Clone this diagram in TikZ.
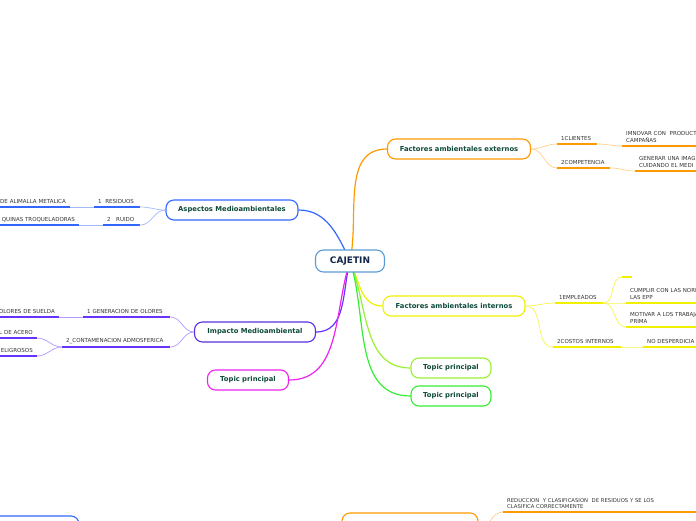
\documentclass[tikz,border=0pt]{standalone}
\usepackage{fontspec}
\setmainfont{DejaVu Sans}
\usetikzlibrary{positioning,backgrounds}
\definecolor{mmblue}{HTML}{3366FF}
\definecolor{mmorange}{HTML}{FF9900}
\definecolor{mmyellow}{HTML}{F0F000}
\definecolor{mmlime}{HTML}{99F033}
\definecolor{mmgreen}{HTML}{33EE33}
\definecolor{mmpurple}{HTML}{6633FF}
\definecolor{mmmagenta}{HTML}{EE22EE}
\definecolor{mmroot}{HTML}{5B9BD5}
\definecolor{mmtext}{HTML}{0E4A3A}
\definecolor{mmnavy}{HTML}{14284B}

\begin{document}
\begin{tikzpicture}[x=1pt, y=-1pt,
  topic/.style={draw, rounded corners=8pt, fill=white, line width=1.1pt,
    minimum height=20pt, inner sep=0pt, text=mmtext,
    font=\fontsize{6.8}{8}\selectfont\bfseries},
  sub/.style={anchor=south west, inner xsep=4pt, inner ysep=3pt, align=left,
    text=black!80, font=\fontsize{5.5}{7}\selectfont},
  subl/.style={sub, anchor=south east, align=right},
  bar/.style={line width=1.4pt},
  link/.style={line width=0.7pt},
  rootlink/.style={line width=1.2pt}]
  \useasboundingbox (0,0) rectangle (696,520);
  \clip (0,0) rectangle (696,520);

  % central topic
  \node[topic, draw=mmroot, minimum width=69pt, minimum height=22pt, text=mmnavy,
    font=\fontsize{9}{10}\selectfont\bfseries] (cajetin) at (350,261) {CAJETIN};

  % main topics
  \node[topic, draw=mmorange, minimum width=143pt] (fext) at (459,149) {Factores ambientales externos};
  \node[topic, draw=mmblue, minimum width=132pt] (asp) at (232,210) {Aspectos Medioambientales};
  \node[topic, draw=mmyellow, minimum width=142pt] (fint) at (454,306) {Factores ambientales internos};
  \node[topic, draw=mmlime, minimum width=80pt] (tpa) at (451,368) {Topic principal};
  \node[topic, draw=mmgreen, minimum width=80pt] (tpb) at (451,396) {Topic principal};
  \node[topic, draw=mmpurple!90!black, minimum width=121pt] (imp) at (255,332) {Impacto Medioambiental};
  \node[topic, draw=mmmagenta, minimum width=81pt] (tpc) at (248,380) {Topic principal};

  % bottom topics
  \node[topic, draw=mmblue, minimum width=130pt, minimum height=30pt] (bleft) at (14,531) {};
  \node[topic, draw=mmorange, minimum width=136pt, minimum height=30pt] (bmid) at (410,528) {};

  % root connectors
  \begin{scope}[on background layer]
    \draw[rootlink, mmblue] (cajetin.center) to[out=115, in=0] (asp.east);
    \draw[rootlink, mmorange] (cajetin.center) to[out=78, in=180] (fext.west);
    \draw[rootlink, mmyellow] (cajetin.center) to[out=-65, in=180] (fint.west);
    \draw[rootlink, mmlime] (cajetin.center) to[out=-68, in=180] (tpa.west);
    \draw[rootlink, mmgreen] (cajetin.center) to[out=-72, in=180] (tpb.west);
    \draw[rootlink, mmpurple] (cajetin.center) to[out=-105, in=0] (imp.east);
    \draw[rootlink, mmmagenta] (cajetin.center) to[out=-108, in=0] (tpc.east);
  \end{scope}

  % Factores ambientales externos
  \node[sub, text width=32pt] (cli) at (557,144) {1CLIENTES};
  \node[sub, text width=90pt] (clia) at (622,146) {IMNOVAR CON\ \ PRODUCT\\CAMPAÑAS};
  \node[sub, text width=45pt] (comp) at (557,168) {2COMPETENCIA};
  \node[sub, text width=80pt] (compa) at (635,171) {GENERAR UNA IMAG\\CUIDANDO EL MEDI};
  \foreach \n in {cli,clia,comp,compa}
    \draw[bar, mmorange] (\n.south west) -- (\n.south east);
  \draw[link, mmorange!45] (fext.east) to[out=0, in=180] (cli.south west);
  \draw[link, mmorange!45] (fext.east) to[out=0, in=180] (comp.south west);
  \draw[link, mmorange!45] (cli.south east) to[out=0, in=180] (clia.south west);
  \draw[link, mmorange!45] (comp.south east) to[out=0, in=180] (compa.south west);

  % Factores ambientales internos
  \node[sub, text width=40pt] (emp) at (555,303) {1EMPLEADOS};
  \node[sub, text width=2pt] (empa) at (622,277) {};
  \node[sub, text width=90pt] (empb) at (626,303) {CUMPLIR CON LAS NORM\\LAS EPP};
  \node[sub, text width=90pt] (empc) at (626,327) {MOTIVAR A LOS TRABAJA\\PRIMA};
  \node[sub, text width=60pt] (cos) at (553,347) {2COSTOS INTERNOS};
  \node[sub, text width=60pt] (cosa) at (643,347) {NO DESPERDICIA};
  \foreach \n in {emp,empa,empb,empc,cos,cosa}
    \draw[bar, mmyellow] (\n.south west) -- (\n.south east);
  \draw[link, mmyellow!70] (fint.east) to[out=0, in=180] (emp.south west);
  \draw[link, mmyellow!70] (fint.east) to[out=0, in=180] (cos.south west);
  \draw[link, mmyellow!70] (emp.south east) to[out=0, in=180] (empa.south west);
  \draw[link, mmyellow!70] (emp.south east) to[out=0, in=180] (empb.south west);
  \draw[link, mmyellow!70] (emp.south east) to[out=0, in=180] (empc.south west);
  \draw[link, mmyellow!70] (cos.south east) to[out=0, in=180] (cosa.south west);

  % Aspectos Medioambientales
  \node[sub, text width=38pt] (res) at (94,207) {1\ \ RESIDUOS};
  \node[subl, text width=80pt] (resa) at (70,207) {DE ALIMALLA METALICA};
  \node[sub, text width=29pt] (rui) at (103,225) {2\ \ \ RUIDO};
  \node[subl, text width=90pt] (ruia) at (79,225) {QUINAS TROQUELADORAS};
  \foreach \n in {res,resa,rui,ruia}
    \draw[bar, mmblue] (\n.south west) -- (\n.south east);
  \draw[link, mmblue!45] (asp.west) to[out=180, in=0] (res.south east);
  \draw[link, mmblue!45] (asp.west) to[out=180, in=0] (rui.south east);
  \draw[link, mmblue!45] (res.south west) -- (resa.south east);
  \draw[link, mmblue!45] (rui.south west) -- (ruia.south east);

  % Impacto Medioambiental
  \node[sub, text width=79pt] (olo) at (83,317) {1 GENERACION DE OLORES};
  \node[subl, text width=70pt] (oloa) at (59,317) {OLORES DE SUELDA};
  \node[sub, text width=100pt] (con) at (62,347) {2\_CONTAMENACION ADMOSFERICA};
  \node[subl, text width=50pt] (cona) at (37,338) {L DE ACERO};
  \node[subl, text width=50pt] (conb) at (37,356) {ELIGROSOS};
  \foreach \n in {olo,oloa,con,cona,conb}
    \draw[bar, mmpurple] (\n.south west) -- (\n.south east);
  \draw[link, mmpurple!50] (imp.west) to[out=180, in=0] (olo.south east);
  \draw[link, mmpurple!50] (imp.west) to[out=180, in=0] (con.south east);
  \draw[link, mmpurple!50] (olo.south west) -- (oloa.south east);
  \draw[link, mmpurple!50] (con.south west) to[out=180, in=0] (cona.south east);
  \draw[link, mmpurple!50] (con.south west) to[out=180, in=0] (conb.south east);

  % bottom branch
  \node[sub, text width=190pt, font=\fontsize{5.3}{6.5}\selectfont] (red) at (503,512)
    {REDUCCION\ \ Y CLASIFICASION\ \ DE RESIDUOS Y SE LOS\\CLASIFICA CORRECTAMENTE};
  \draw[bar, mmorange] (red.south west) -- (red.south east);
  \draw[link, mmorange!45] (bmid.east) to[out=0, in=180] (red.south west);
\end{tikzpicture}
\end{document}
